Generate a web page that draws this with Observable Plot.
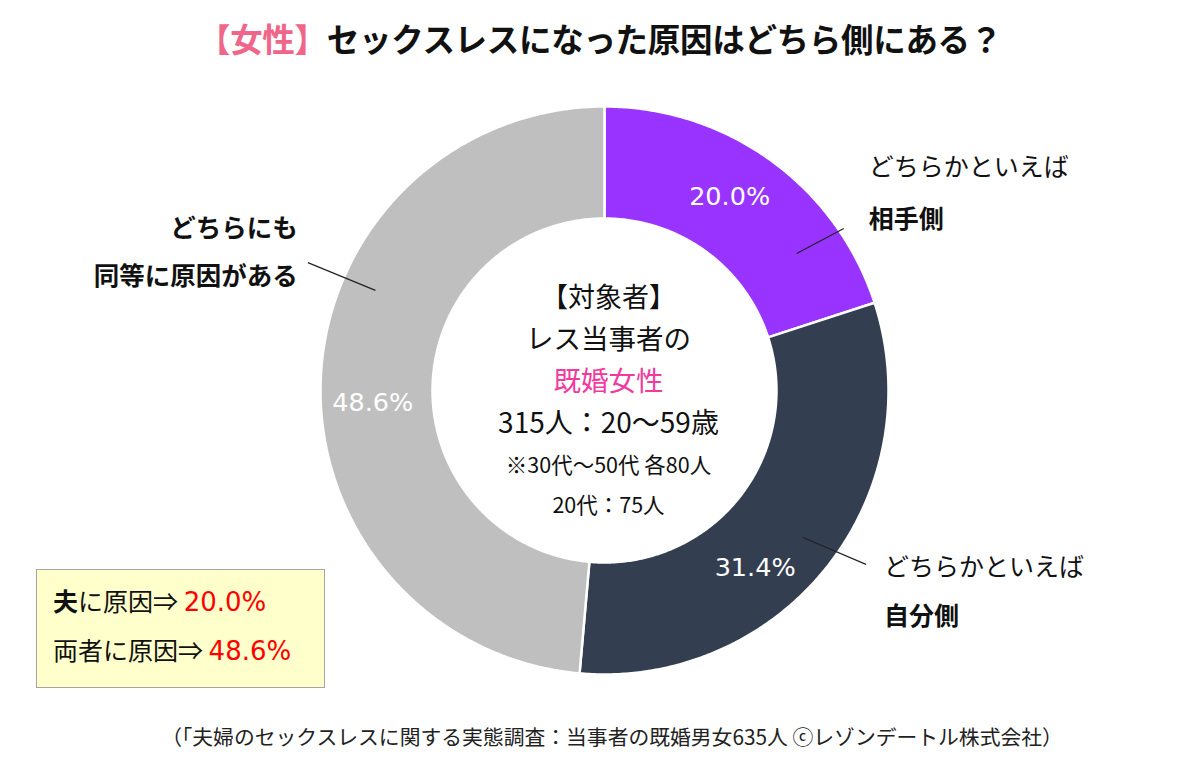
<!DOCTYPE html>
<html lang="ja">
<head>
<meta charset="utf-8">
<script src="https://cdn.jsdelivr.net/npm/d3@7"></script>
<script src="https://cdn.jsdelivr.net/npm/@observablehq/plot@0.6"></script>
<style>
  html, body { margin: 0; padding: 0; background: #fff; }
  body { width: 1200px; height: 757px; position: relative; overflow: hidden;
         font-family: "Noto Sans CJK JP", "Noto Sans", sans-serif; }
  #title { height: 72px; line-height: 76px; text-align: center; font-size: 32.5px; font-weight: 700;
           color: #111; letter-spacing: -0.3px; white-space: nowrap; }
  #title .pink { color: #F0668A; }
  #chart { height: 640px; }
  #caption { position: absolute; left: 0; width: 1224px; top: 721px; text-align: center;
             font-size: 20.8px; color: #222; white-space: nowrap; }
  #box { position: absolute; left: 36px; top: 569px; width: 287px; height: 117px;
         background: #FFFFCC; border: 1.5px solid #A6A6A6; font-size: 25px; color: #111; }
  #box div { position: absolute; left: 16px; white-space: nowrap; }
  #box .red { color: #FF0000; font-family: "DejaVu Sans", sans-serif; font-size: 26px; }
</style>
</head>
<body>
<div id="title"><span class="pink">【女性】</span>セックスレスになった原因はどちら側にある？</div>
<div id="chart"></div>
<div id="box"></div>
<div id="caption">（「夫婦のセックスレスに関する実態調査：当事者の既婚男女635人 ⓒレゾンデートル株式会社）</div>
<script>
// ---- data ----
const categories = ["相手側", "自分側", "同等"];
const labelTop = ["どちらかといえば", "どちらかといえば", "どちらにも"];
const labelBottom = ["相手側", "自分側", "同等に原因がある"];
const values = [20.0, 31.4, 48.6];
const colors = ["#9933FF", "#333F50", "#BFBFBF"];
const centerLines = ["【対象者】", "レス当事者の", "既婚女性", "315人：20〜59歳", "※30代〜50代 各80人", "20代：75人"];

// ---- layout (styling) ----
const R_OUT = 284, R_IN = 172;
const total = d3.sum(values);
let acc = 0;
const slices = values.map((v, i) => {
  const a0 = acc / total * 360; acc += v; const a1 = acc / total * 360;
  return {i, cat: categories[i], value: v, a0, a1, mid: (a0 + a1) / 2};
});
const rad = a => a * Math.PI / 180;
const px = (r, a) => r * Math.sin(rad(a));
const py = (r, a) => -r * Math.cos(rad(a));

// polygon points for each ring slice
const pts = [];
for (const s of slices) {
  const n = Math.max(2, Math.ceil((s.a1 - s.a0) / 0.5));
  const ring = [];
  for (let k = 0; k <= n; k++) { const a = s.a0 + (s.a1 - s.a0) * k / n; ring.push([px(R_OUT, a), py(R_OUT, a)]); }
  for (let k = n; k >= 0; k--) { const a = s.a0 + (s.a1 - s.a0) * k / n; ring.push([px(R_IN, a), py(R_IN, a)]); }
  ring.push(ring[0]);
  for (const [x, y] of ring) pts.push({cat: s.cat, x, y});
}

// per-slice annotation placement: label angle shift from mid-angle, leader-line geometry, label offsets
const place = {
  "相手側": {pctShift: -3.2, pctR: 231, l1: [236, 18.5], l2: [289, 19.9], dx: 25, dyTop: -60, dyBot: -8, side: "right"},
  "自分側": {pctShift: 11.2, pctR: 233, l1: [247, -2.0], l2: [314, -4.9], dx: 18, dyTop: 4, dyBot: 53, side: "right"},
  "同等":   {pctShift: -5.5, pctR: 232, l1: [250, 21.1], l2: [323, 20.8], dx: -10, dyTop: -34, dyBot: 14, side: "left"}
};
const pctLabels = slices.map(s => {
  const p = place[s.cat], a = s.mid + p.pctShift;
  return {t: s.value.toFixed(1) + "%", x: px(p.pctR, a), y: py(p.pctR, a)};
});
const leaders = slices.map(s => {
  const p = place[s.cat];
  const a1 = s.mid + p.l1[1], a2 = s.mid + p.l2[1];
  return {cat: s.cat, x1: px(p.l1[0], a1), y1: py(p.l1[0], a1), x2: px(p.l2[0], a2), y2: py(p.l2[0], a2)};
});
const outer = [];
slices.forEach((s, i) => {
  const p = place[s.cat], L = leaders[i];
  outer.push({t: labelTop[i], x: L.x2 + p.dx, y: L.y2 + p.dyTop, bold: p.side === "left", side: p.side});
  outer.push({t: labelBottom[i], x: L.x2 + p.dx, y: L.y2 + p.dyBot, bold: true, side: p.side});
});
const centerData = centerLines.map((t, i) => ({
  t, y: [-92, -50, -8, 34, 76, 116][i], size: [27, 27.5, 27.5, 28][i] || 21.5, pink: i === 2
}));

const font = "Noto Sans CJK JP";
const chart = Plot.plot({
  width: 1200, height: 640,
  margin: 0,
  x: {domain: [-604, 596], range: [0, 1200], axis: null},
  y: {domain: [-318, 322], range: [0, 640], axis: null},
  color: {domain: categories, range: colors},
  style: {fontFamily: font, background: "#fff"},
  marks: [
    Plot.line(pts, {x: "x", y: "y", z: "cat", fill: "cat", stroke: "#fff", strokeWidth: 2.5, curve: "linear"}),
    Plot.text(pctLabels, {x: "x", y: "y", text: "t", fill: "#fff", fontSize: 25.5, fontFamily: "DejaVu Sans"}),
    Plot.link(leaders, {x1: "x1", y1: "y1", x2: "x2", y2: "y2", stroke: "#222", strokeWidth: 1.2}),
    Plot.text(outer.filter(d => !d.bold), {x: "x", y: "y", text: "t", textAnchor: "start", fontSize: 25, fill: "#111", fontWeight: 400}),
    Plot.text(outer.filter(d => d.bold && d.side === "right"), {x: "x", y: "y", text: "t", textAnchor: "start", fontSize: 25, fill: "#111", fontWeight: 700}),
    Plot.text(outer.filter(d => d.bold && d.side === "left"), {x: "x", y: "y", text: "t", textAnchor: "end", fontSize: 25.5, fill: "#111", fontWeight: 700}),
    Plot.text(centerData, {x: () => 4, y: "y", text: "t", fontSize: "size", fill: d => d.pink ? "#F03A9E" : "#111"})
  ]
});
document.getElementById("chart").append(chart);

// summary box from data
const box = document.getElementById("box");
box.innerHTML =
  `<div style="top:12px"><b>夫</b>に原因⇒ <span class="red">${values[0].toFixed(1)}%</span></div>` +
  `<div style="top:61px">両者に原因⇒ <span class="red">${values[2].toFixed(1)}%</span></div>`;
</script>
</body>
</html>
